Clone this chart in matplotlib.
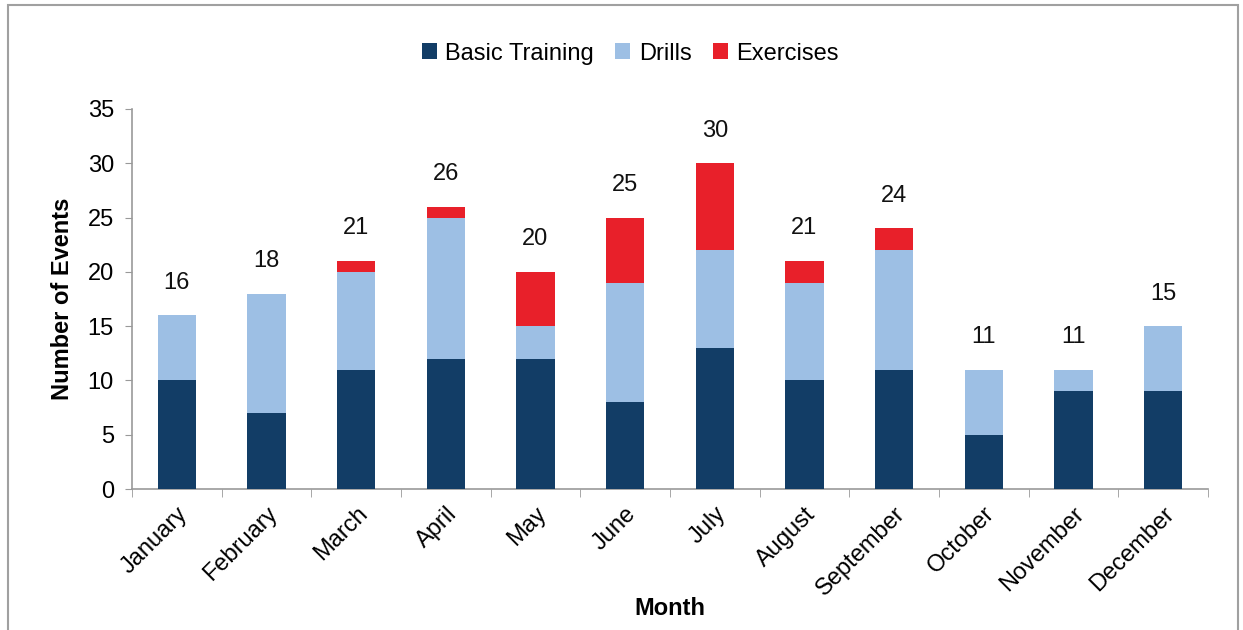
import matplotlib
matplotlib.use("Agg")
import matplotlib.pyplot as plt
from matplotlib.patches import Rectangle
import numpy as np

months = ["January", "February", "March", "April", "May", "June", "July",
          "August", "September", "October", "November", "December"]
basic = [10, 7, 11, 12, 12, 8, 13, 10, 11, 5, 9, 9]
drills = [6, 11, 9, 13, 3, 11, 9, 9, 11, 6, 2, 6]
exercises = [0, 0, 1, 1, 5, 6, 8, 2, 2, 0, 0, 0]

plt.rcParams['font.family'] = ['Liberation Sans', 'DejaVu Sans']

fig = plt.figure(figsize=(12.43, 6.30), dpi=100)
ax = fig.add_axes([0.1062, 0.2238, 0.8656, 0.6032])

c_basic = "#123D66"
c_drills = "#9DBFE4"
c_ex = "#E8202A"

FS = 17

x = np.arange(len(months))
w = 0.43
b = np.array(basic)
d = np.array(drills)
e = np.array(exercises)
ax.bar(x, b, w, color=c_basic, label="Basic Training", zorder=3)
ax.bar(x, d, w, bottom=b, color=c_drills, label="Drills", zorder=3)
ax.bar(x, e, w, bottom=b + d, color=c_ex, label="Exercises", zorder=3)

totals = b + d + e
for xi, t in zip(x, totals):
    ax.text(xi, t + 3, str(t), ha="center", va="center", fontsize=FS, color="#111111")

ax.set_xlim(-0.5, len(months) - 0.5)
ax.set_ylim(0, 35)
ax.set_yticks(range(0, 36, 5))
ax.tick_params(axis='y', labelsize=FS, length=5, color="#999999", direction='out', pad=8)
ax.set_xticks(x)
ax.set_xticklabels(months, rotation=45, ha="right", rotation_mode="anchor", fontsize=FS)
ax.set_xticks(np.arange(-0.5, len(months)), minor=True)
ax.tick_params(axis='x', which='major', length=0, pad=10)
ax.tick_params(axis='x', which='minor', length=6, color="#999999", direction='out')

for s in ["top", "right"]:
    ax.spines[s].set_visible(False)
for s in ["left", "bottom"]:
    ax.spines[s].set_color("#999999")
    ax.spines[s].set_linewidth(1.2)

ax.set_ylabel("Number of Events", fontsize=FS, fontweight="bold", labelpad=10)
ax.set_xlabel("Month", fontsize=FS, fontweight="bold", labelpad=-2)

leg = fig.legend(loc="center", bbox_to_anchor=(0.507, 0.915), ncol=3, frameon=False,
                 fontsize=FS, handlelength=0.65, handleheight=0.65, handletextpad=0.35,
                 columnspacing=0.9)

fig.patches.append(Rectangle((0.0064, -0.01), 0.9895, 1.0021, transform=fig.transFigure,
                             fill=False, edgecolor="#A0A0A0", linewidth=1.5))

fig.savefig("out.png", dpi=100)
